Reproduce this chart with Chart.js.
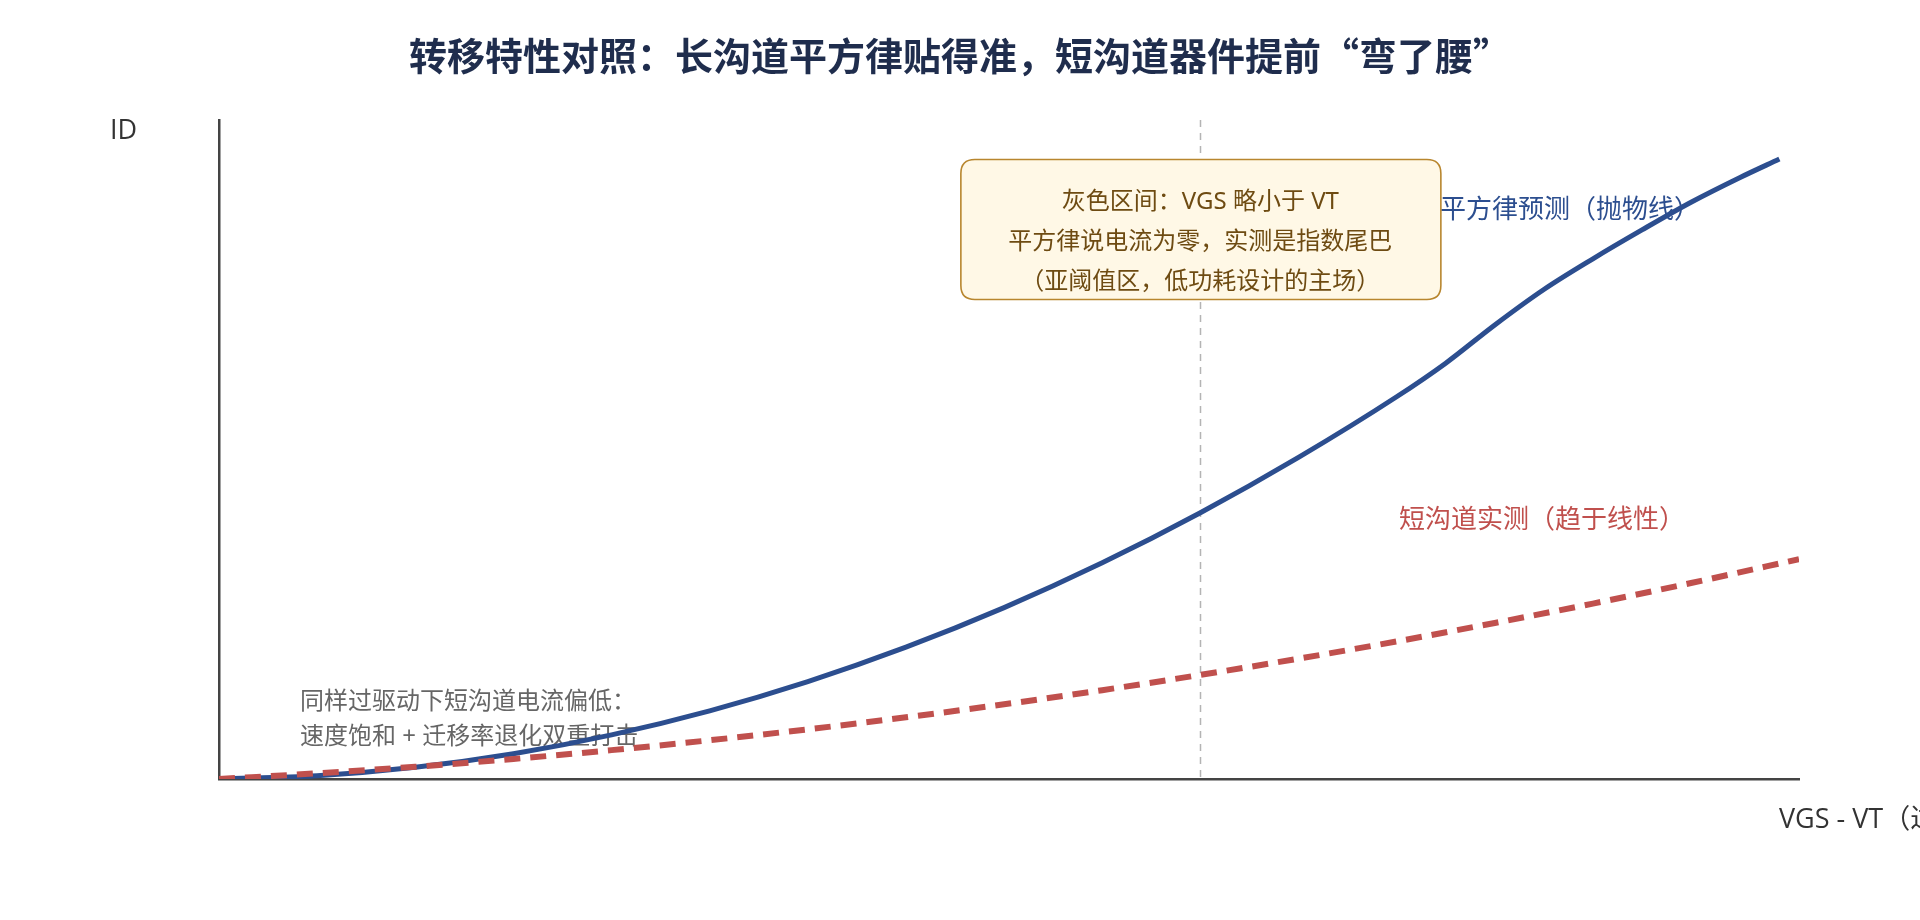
<!DOCTYPE html>
<html>
<head>
<meta charset="utf-8">
<script src="https://cdn.jsdelivr.net/npm/chart.js@4.4.1/dist/chart.umd.min.js"></script>
<style>
  html, body { margin: 0; padding: 0; background: #ffffff; }
  #wrap { width: 1920px; height: 920px; position: relative; }
  canvas { display: block; }
</style>
</head>
<body>
<div id="wrap"><canvas id="c" width="1920" height="920"></canvas></div>
<script>
// ---- data ----
const chartTitle = '转移特性对照：长沟道平方律贴得准，短沟道器件提前“弯了腰”';
const xAxisName = 'VGS - VT（过驱动电压）';
const yAxisName = 'ID';

const seriesNames = ['平方律预测（抛物线）', '短沟道实测（趋于线性）'];

// long-channel square-law prediction
const squareLawX = [0, 0.1, 0.2, 0.3, 0.4, 0.5, 0.6, 0.7, 0.8, 0.9, 1.0, 1.1, 1.2, 1.25, 1.3, 1.35, 1.4, 1.45, 1.5, 1.55, 1.59];
const squareLawY = [0, 0.025, 0.089, 0.192, 0.335, 0.517, 0.739, 1.0, 1.30, 1.64, 2.02, 2.44, 2.90, 3.155, 3.445, 3.714, 3.947, 4.166, 4.376, 4.564, 4.704];

// short-channel measured
const shortChX = [0, 0.1, 0.2, 0.3, 0.4, 0.5, 0.6, 0.7, 0.8, 0.9, 1.0, 1.1, 1.2, 1.3, 1.4, 1.5, 1.61];
const shortChY = [0, 0.043, 0.093, 0.152, 0.219, 0.294, 0.377, 0.468, 0.567, 0.674, 0.790, 0.913, 1.044, 1.184, 1.331, 1.487, 1.668];

const xRange = [0, 1.61];
const yRange = [0, 5];
const markX = 1.0;   // dashed marker position

const boxLines = ['灰色区间：VGS 略小于 VT', '平方律说电流为零，实测是指数尾巴', '（亚阈值区，低功耗设计的主场）'];
const noteLines = ['同样过驱动下短沟道电流偏低：', '速度饱和 + 迁移率退化双重打击'];

// ---- styles ----
const BLUE = '#2c4e8f';
const RED = '#c0504d';
const CJK = '"Noto Sans CJK SC", "Noto Sans", sans-serif';
const MIX = '"Noto Sans", "Noto Sans CJK SC", sans-serif';
const AXF = '"Open Sans", "Noto Sans CJK SC", sans-serif';

const toPts = (xs, ys) => xs.map((x, i) => ({ x: x, y: ys[i] }));

function roundRect(ctx, x, y, w, h, r) {
  ctx.beginPath();
  ctx.moveTo(x + r, y);
  ctx.lineTo(x + w - r, y);
  ctx.quadraticCurveTo(x + w, y, x + w, y + r);
  ctx.lineTo(x + w, y + h - r);
  ctx.quadraticCurveTo(x + w, y + h, x + w - r, y + h);
  ctx.lineTo(x + r, y + h);
  ctx.quadraticCurveTo(x, y + h, x, y + h - r);
  ctx.lineTo(x, y + r);
  ctx.quadraticCurveTo(x, y, x + r, y);
  ctx.closePath();
}

const annotate = {
  id: 'annotate',
  beforeDatasetsDraw(chart) {
    const { ctx, chartArea, scales } = chart;
    const xs = scales.x;
    ctx.save();
    // vertical dashed marker
    const mx = Math.round(xs.getPixelForValue(markX)) + 0.5;
    ctx.strokeStyle = '#b4b4b4';
    ctx.lineWidth = 1.5;
    ctx.setLineDash([7, 6]);
    ctx.beginPath();
    ctx.moveTo(mx, chartArea.top);
    ctx.lineTo(mx, chartArea.bottom);
    ctx.stroke();
    ctx.setLineDash([]);

    // note text bottom-left
    ctx.font = '24px ' + MIX;
    ctx.fillStyle = '#666666';
    ctx.textAlign = 'left';
    ctx.textBaseline = 'middle';
    ctx.fillText(noteLines[0], chartArea.left + 81, 702);
    ctx.fillText(noteLines[1], chartArea.left + 81, 737);

    // series labels
    ctx.font = '26px ' + MIX;
    ctx.fillStyle = BLUE;
    ctx.fillText(seriesNames[0], 1440, 211);
    ctx.fillStyle = RED;
    ctx.fillText(seriesNames[1], 1399, 521);
    ctx.restore();
  },
  afterDatasetsDraw(chart) {
    const { ctx, scales } = chart;
    const xs = scales.x;
    ctx.save();
    // title
    ctx.font = 'bold 38px ' + CJK;
    ctx.fillStyle = '#1f2d4d';
    ctx.textAlign = 'center';
    ctx.textBaseline = 'middle';
    ctx.fillText(chartTitle, 960, 56);

    // axis names
    ctx.font = '27px ' + AXF;
    ctx.fillStyle = '#333333';
    ctx.textAlign = 'left';
    ctx.fillText(yAxisName, 110, 131);
    ctx.fillText(xAxisName, 1779, 820);

    // annotation box
    const cx = xs.getPixelForValue(markX);
    const bw = 480, bh = 140, by = 159;
    roundRect(ctx, cx - bw / 2 + 0.5, by + 0.5, bw, bh, 14);
    ctx.fillStyle = '#fff8e6';
    ctx.fill();
    ctx.strokeStyle = '#b8862e';
    ctx.lineWidth = 1.6;
    ctx.stroke();
    ctx.fillStyle = '#6e4b12';
    ctx.font = '24px ' + MIX;
    ctx.textAlign = 'center';
    boxLines.forEach((t, i) => ctx.fillText(t, cx, 202 + i * 40));
    ctx.restore();
  }
};

new Chart(document.getElementById('c'), {
  type: 'line',
  data: {
    datasets: [
      {
        label: seriesNames[0],
        data: toPts(squareLawX, squareLawY),
        borderColor: BLUE,
        borderWidth: 5,
        pointRadius: 0,
        cubicInterpolationMode: 'monotone',
        fill: false,
        order: 2
      },
      {
        label: seriesNames[1],
        data: toPts(shortChX, shortChY),
        borderColor: RED,
        borderWidth: 6,
        borderDash: [16, 10],
        pointRadius: 0,
        cubicInterpolationMode: 'monotone',
        fill: false,
        order: 1
      }
    ]
  },
  options: {
    responsive: false,
    animation: false,
    devicePixelRatio: 1,
    layout: { padding: { left: 219, right: 121, top: 120, bottom: 141 } },
    plugins: { legend: { display: false }, tooltip: { enabled: false }, title: { display: false } },
    scales: {
      x: {
        type: 'linear', min: xRange[0], max: xRange[1],
        ticks: { display: false },
        grid: { display: false, drawTicks: false },
        border: { display: true, color: '#444444', width: 2.5 }
      },
      y: {
        type: 'linear', min: yRange[0], max: yRange[1],
        ticks: { display: false },
        grid: { display: false, drawTicks: false },
        border: { display: true, color: '#444444', width: 2.5 }
      }
    }
  },
  plugins: [annotate]
});
</script>
</body>
</html>
